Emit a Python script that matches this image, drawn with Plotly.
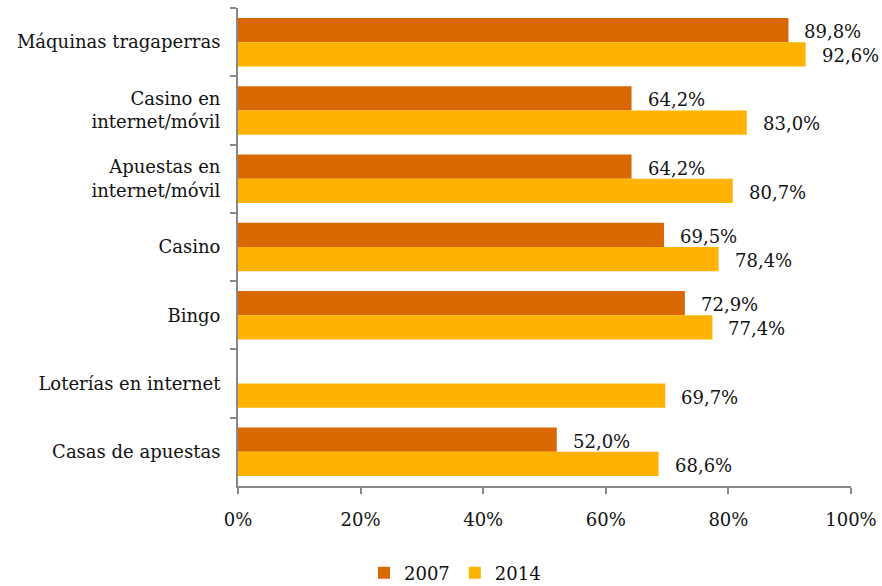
import plotly.graph_objects as go

categories = [
    "Máquinas tragaperras",
    "Casino en<br>internet/móvil",
    "Apuestas en<br>internet/móvil",
    "Casino",
    "Bingo",
    "Loterías en internet",
    "Casas de apuestas",
]
values_2007 = [89.8, 64.2, 64.2, 69.5, 72.9, None, 52.0]
values_2014 = [92.6, 83.0, 80.7, 78.4, 77.4, 69.7, 68.6]
x_ticks = [0, 20, 40, 60, 80, 100]
x_tick_labels = ["0%", "20%", "40%", "60%", "80%", "100%"]

FONT = "DejaVu Serif, serif"
FSIZE = 18
COLOR_2007 = "#DA6800"
COLOR_2014 = "#FFB300"
AXIS_COLOR = "#888888"


def fmt(v):
    return f"{v:.1f}".replace(".", ",") + "%"


fig = go.Figure()
fig.add_trace(go.Bar(
    name="2007", y=categories, x=values_2007, orientation="h",
    marker=dict(color=COLOR_2007, line=dict(width=0)),
))
fig.add_trace(go.Bar(
    name="2014", y=categories, x=values_2014, orientation="h",
    marker=dict(color=COLOR_2014, line=dict(width=0)),
))

annotations = []
for series, shift in ((values_2007, 10.5), (values_2014, -13.5)):
    for cat, v in zip(categories, series):
        if v is None:
            continue
        annotations.append(dict(
            x=v, y=cat, xref="x", yref="y", text=fmt(v), showarrow=False,
            xanchor="left", yanchor="middle", xshift=14, yshift=shift,
            font=dict(family=FONT, size=FSIZE, color="#111111"),
        ))

fig.update_layout(
    width=882, height=586,
    margin=dict(l=238, r=31, t=8, b=100, autoexpand=False),
    paper_bgcolor="white", plot_bgcolor="white",
    barmode="group", bargap=0.29, bargroupgap=0,
    font=dict(family=FONT, size=FSIZE, color="#111111"),
    annotations=annotations,
    showlegend=True,
    legend=dict(
        orientation="h", x=455 / 882, xref="container", xanchor="center",
        y=13 / 586, yref="container", yanchor="middle",
        font=dict(family=FONT, size=FSIZE, color="#111111"),
        itemwidth=30, tracegroupgap=0,
    ),
    xaxis=dict(
        range=[0, 100], tickvals=x_ticks, ticktext=x_tick_labels,
        showgrid=False, zeroline=False,
        showline=True, linecolor=AXIS_COLOR, linewidth=2,
        ticks="outside", ticklen=6, tickwidth=2, tickcolor=AXIS_COLOR,
        ticklabelstandoff=10,
        tickfont=dict(family=FONT, size=FSIZE, color="#111111"),
    ),
    yaxis=dict(
        autorange="reversed", showgrid=False, zeroline=False,
        showline=True, linecolor=AXIS_COLOR, linewidth=2,
        ticks="outside", ticklen=6, tickwidth=2, tickcolor=AXIS_COLOR,
        tickson="boundaries", ticklabelstandoff=12,
        tickfont=dict(family=FONT, size=FSIZE, color="#111111"),
    ),
)

fig.write_html("out.html")
